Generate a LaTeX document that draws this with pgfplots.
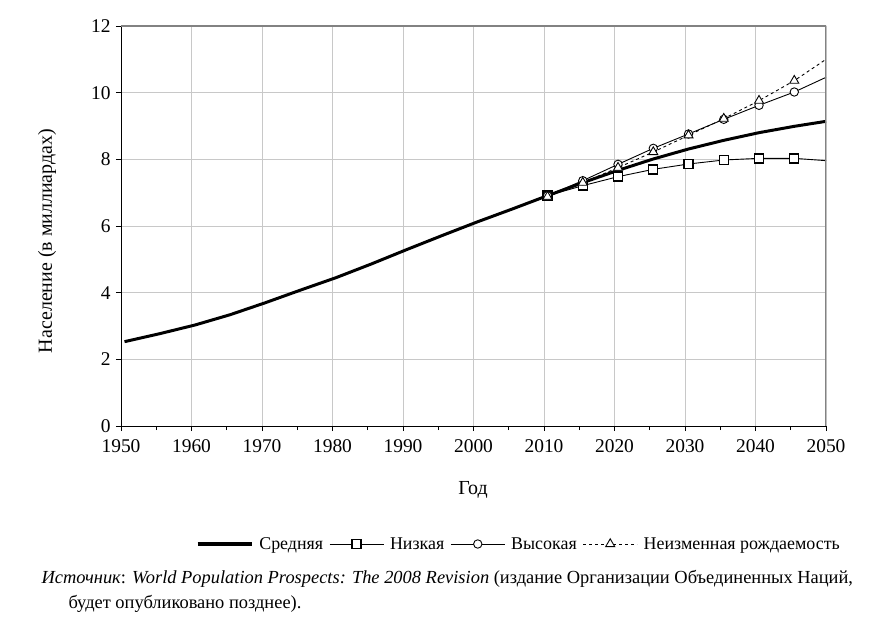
\documentclass[border=0pt]{standalone}
\usepackage{fontspec}
\setmainfont{Liberation Serif}
\usepackage{pgfplots}
\pgfplotsset{compat=1.18}

\definecolor{gridgray}{RGB}{200,200,200}
\definecolor{framegray}{RGB}{130,130,130}

\begin{document}
\begin{tikzpicture}[font=\fontsize{19.5}{23}\selectfont]
\path[use as bounding box] (-121bp,-205bp) rectangle (775bp,426bp);
\begin{axis}[
    at={(0,0)}, anchor=south west,
    scale only axis,
    width=705bp, height=400bp,
    xmin=1950, xmax=2050,
    ymin=0, ymax=12,
    xtick={1950,1960,...,2050},
    ytick={0,2,...,12},
    minor x tick num=1,
    /pgf/number format/assume math mode=true,
    /pgf/number format/1000 sep={},
    axis lines*=left,
    axis line style={black, line width=0.8pt},
    tick align=outside,
    tick style={black, line width=0.6pt},
    major tick length=5bp,
    minor tick length=4bp,
    xmajorgrids, ymajorgrids,
    major grid style={gridgray, line width=0.8pt},
    xticklabel style={yshift=-5bp},
    yticklabel style={xshift=-2bp},
    legend columns=4,
    legend style={at={(1.027,-0.295)}, anchor=east, draw=none, fill=none,
        /tikz/every odd column/.append style={column sep=4bp},
        /tikz/every even column/.append style={column sep=4bp},
        font=\fontsize{18}{21}\selectfont},
    legend image code/.code={
        \draw[#1, mark=none] (0bp,0bp) -- (54bp,0bp);
        \draw[#1] plot coordinates {(27bp,0bp)};},
    clip=true,
]
% Средняя
\addplot[black, line width=3pt, no markers,
    legend image post style={line width=3.6pt}] coordinates {
(1950.5,2.53) (1955.5,2.77) (1960.5,3.03) (1965.5,3.34) (1970.5,3.70)
(1975.5,4.08) (1980.5,4.45) (1985.5,4.86) (1990.5,5.29) (1995.5,5.71)
(2000.5,6.12) (2005.5,6.51) (2010.5,6.91) (2015.5,7.30) (2020.5,7.67)
(2025.5,8.01) (2030.5,8.31) (2035.5,8.57) (2040.5,8.80) (2045.5,8.99)
(2050,9.14)};
\addlegendentry{Средняя}
% Низкая
\addplot[black, line width=0.9pt, mark=square*, mark size=4.5bp,
    mark options={fill=white, solid, line width=1.4pt}, mark indices={1,...,8}] coordinates {
(2010.5,6.91) (2015.5,7.21) (2020.5,7.48) (2025.5,7.70) (2030.5,7.86)
(2035.5,7.98) (2040.5,8.03) (2045.5,8.03) (2050,7.96)};
\addlegendentry{Низкая}
% Высокая
\addplot[black, line width=0.9pt, mark=*, mark size=4.2bp,
    mark options={fill=white, solid, line width=0.9pt}, mark indices={1,...,8}] coordinates {
(2010.5,6.91) (2015.5,7.36) (2020.5,7.85) (2025.5,8.33) (2030.5,8.76)
(2035.5,9.20) (2040.5,9.62) (2045.5,10.02) (2050,10.46)};
\addlegendentry{Высокая}
% Неизменная рождаемость
\addplot[black, line width=0.9pt, dash pattern=on 3bp off 3bp, mark=triangle*, mark size=5.2bp,
    mark options={fill=white, solid, line width=0.9pt}, mark indices={1,...,8}] coordinates {
(2010.5,6.88) (2015.5,7.30) (2020.5,7.75) (2025.5,8.22) (2030.5,8.72)
(2035.5,9.22) (2040.5,9.76) (2045.5,10.36) (2050,11.00)};
\addlegendentry{Неизменная рождаемость}
\draw[framegray, line width=1.2pt] (rel axis cs:0,1) -- (rel axis cs:1,1) -- (rel axis cs:1,0);
\end{axis}
\node[rotate=90, font=\fontsize{20}{24}\selectfont] at (-74bp,185bp) {Население (в миллиардах)};
\node[font=\fontsize{20}{24}\selectfont] at (352bp,-64bp) {Год};
\node[anchor=base west, font=\fontsize{18.5}{22}\selectfont] at (-83bp,-157bp)
    {\textit{Источник}: \textit{World Population Prospects: The 2008 Revision} (издание Организации Объединенных Наций,};
\node[anchor=base west, font=\fontsize{18.5}{22}\selectfont] at (-56bp,-182bp)
    {будет опубликовано позднее).};
\end{tikzpicture}
\end{document}
